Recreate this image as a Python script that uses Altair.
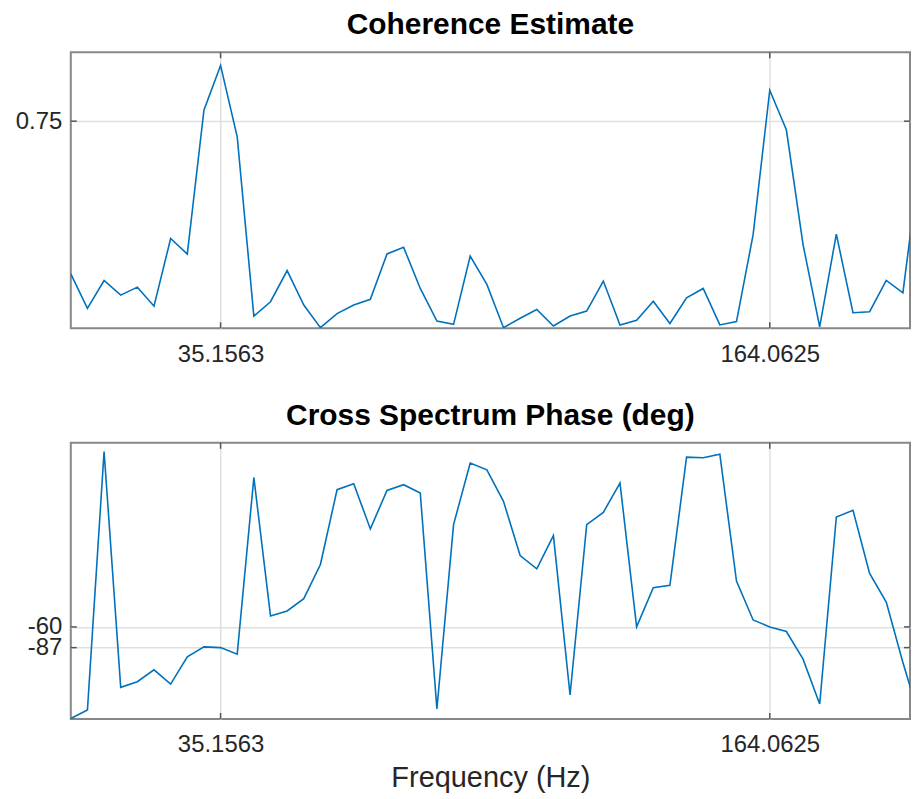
import altair as alt
import pandas as pd

# ---------------- data ----------------
freq_step = 3.90625
freq = [i * freq_step for i in range(52)]

coherence = [0.197, 0.072, 0.173, 0.120, 0.149, 0.080, 0.325, 0.269, 0.790, 0.952,
             0.693, 0.044, 0.096, 0.209, 0.084, 0.002, 0.053, 0.084, 0.105, 0.269,
             0.293, 0.144, 0.026, 0.014, 0.261, 0.159, 0.002, 0.036, 0.068, 0.008,
             0.044, 0.062, 0.171, 0.012, 0.029, 0.098, 0.017, 0.110, 0.144, 0.012,
             0.024, 0.339, 0.862, 0.718, 0.303, 0.005, 0.341, 0.056, 0.060, 0.173,
             0.128, 0.603]

phase = [-179.5, -168.3, 168.7, -138.8, -131.5, -115.9, -134.5, -99.0, -86.0, -87.0,
         -95.5, 134.9, -45.7, -39.2, -23.2, 21.4, 118.9, 126.7, 67.8, 118.0,
         125.4, 114.6, -167.0, 73.4, 153.6, 144.9, 103.7, 33.1, 15.8, 59.1,
         -148.8, 73.4, 89.4, 127.6, -60.0, -8.8, -5.8, 161.4, 160.5, 165.3,
         -0.2, -50.9, -60.0, -66.0, -102.0, -160.5, 83.4, 92.0, 9.8, -27.5,
         -106.3, -179.0]

x_ticks = [35.15625, 164.0625]
coh_ticks = [0.75]
phase_ticks = [-87, -60]

df = pd.DataFrame({"f": freq, "coh": coherence, "ph": phase})

# ---------------- style ----------------
W, H = 842, 277
XMAX = 196.98
FONT = "Liberation Sans"
LINE = "#0072BD"
BOX = "#878787"
GRID = "#e0e0e0"
TICKC = "#555555"
TXT = "#262626"


def panel(ycol, ydomain, yticks, ylabels_expr, title, xtitle):
    xaxis_kw = dict(values=x_ticks, format=".4f", grid=True, gridColor=GRID, gridWidth=1.5,
                    ticks=False, tickSize=0, domain=False, labelPadding=14,
                    labelFontSize=24, labelFont=FONT, labelColor=TXT)
    if xtitle:
        xaxis = alt.Axis(title=xtitle, titleFontSize=29, titleFont=FONT,
                         titleFontWeight="normal", titleColor=TXT, titlePadding=7,
                         **xaxis_kw)
    else:
        xaxis = alt.Axis(title=None, **xaxis_kw)
    x_enc = alt.X("f:Q", scale=alt.Scale(domain=[0, XMAX], nice=False, zero=False),
                  axis=xaxis)
    yaxis = alt.Axis(values=yticks, labelExpr=ylabels_expr, grid=True, gridColor=GRID,
                     gridWidth=1.5, ticks=False, tickSize=0, domain=False, labelPadding=9,
                     labelFontSize=24, labelFont=FONT, labelColor=TXT, title=None,
                     minExtent=62, maxExtent=62)
    y_enc = alt.Y(f"{ycol}:Q", scale=alt.Scale(domain=ydomain, nice=False, zero=False),
                  axis=yaxis)

    line = alt.Chart(df).mark_line(color=LINE, strokeWidth=1.6, clip=True).encode(
        x=x_enc, y=y_enc)

    xt = pd.DataFrame({"f": x_ticks})
    yt = pd.DataFrame({ycol: yticks})
    rk = dict(color=TICKC, strokeWidth=1.5)
    t_top = alt.Chart(xt).mark_rule(**rk).encode(x=x_enc, y=alt.value(0), y2=alt.value(6))
    t_bot = alt.Chart(xt).mark_rule(**rk).encode(x=x_enc, y=alt.value(H), y2=alt.value(H - 6))
    t_left = alt.Chart(yt).mark_rule(**rk).encode(y=y_enc, x=alt.value(0), x2=alt.value(6))
    t_right = alt.Chart(yt).mark_rule(**rk).encode(y=y_enc, x=alt.value(W), x2=alt.value(W - 6))

    return alt.layer(line, t_top, t_bot, t_left, t_right).properties(
        width=W, height=H,
        title=alt.TitleParams(text=title, fontSize=30, fontWeight="bold", font=FONT,
                              color="#000000", offset=11, anchor="middle"))


top = panel("coh", [0, 1], coh_ticks, "format(datum.value, '.2f')",
            "Coherence Estimate", None)
bottom = panel("ph", [-180, 180], phase_ticks, "'' + datum.value",
               "Cross Spectrum Phase (deg)", "Frequency (Hz)")

chart = alt.vconcat(top, bottom, spacing=33).properties(
    padding={"left": 0, "top": 0, "right": 0, "bottom": 0}
).configure_view(stroke=BOX, strokeWidth=2)

chart.save("out.html", embed_options={"renderer": "svg", "actions": False})
